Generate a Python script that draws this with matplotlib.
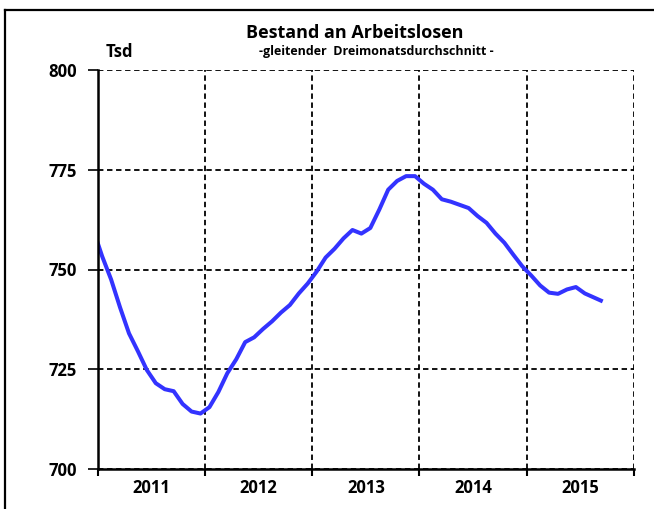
import matplotlib
matplotlib.use("Agg")
import matplotlib.pyplot as plt
from matplotlib.lines import Line2D
import numpy as np

plt.rcParams['font.family'] = ['Open Sans', 'DejaVu Sans']
plt.rcParams['font.weight'] = 'bold'

# monthly values (3-month moving average), Dec 2010 .. Sep 2015, in thousands
werte = [760.0,
         753.3, 747.5, 740.5, 734.0, 729.5, 724.8, 721.5, 720.0, 719.5, 716.3, 714.4, 713.9,
         715.5, 719.3, 724.0, 727.5, 731.8, 733.0, 735.1, 737.0, 739.2, 741.1, 744.0, 746.5,
         749.5, 753.0, 755.2, 757.8, 759.9, 759.0, 760.4, 765.0, 770.0, 772.2, 773.4, 773.4,
         771.5, 770.0, 767.6, 767.0, 766.2, 765.4, 763.4, 761.7, 759.0, 756.7, 753.7, 750.8,
         748.5, 746.0, 744.2, 743.9, 745.0, 745.6, 744.0, 743.0, 742.0]
jahre = ['2011', '2012', '2013', '2014', '2015']
yticks = [700, 725, 750, 775, 800]

# month k sits in the middle of its month; first value is Dec 2010
x = np.arange(len(werte)) - 1 + 0.5

fig = plt.figure(figsize=(6.54, 5.09), dpi=100)
ax = fig.add_axes([97.7 / 654, 1 - 469 / 509, (634 - 97.7) / 654, (469 - 70) / 509])

ax.plot(x, werte, color='#3333ff', lw=2.9, solid_capstyle='butt', zorder=3)

ax.set_xlim(0, 12 * len(jahre))
ax.set_ylim(yticks[0], yticks[-1])

ax.set_yticks(yticks)
ax.set_yticklabels([str(v) for v in yticks])
ax.set_xticks(np.arange(0, 12 * len(jahre) + 1, 12))
ax.set_xticklabels([])
ax.set_xticks(np.arange(6, 12 * len(jahre), 12), minor=True)
ax.set_xticklabels(jahre, minor=True)
ax.tick_params(axis='x', which='minor', length=0, pad=7, labelsize=12)
ax.tick_params(axis='x', which='major', length=5, width=1.5, direction='out')
ax.tick_params(axis='y', length=7, width=1.2, direction='out', pad=8, labelsize=12)

ax.grid(True, which='major', color='black', linestyle=(0, (3.0, 2.0)), lw=1.3, zorder=1)
ax.spines['top'].set_visible(False)
ax.spines['right'].set_visible(False)
ax.spines['left'].set_linewidth(1.8)
ax.spines['bottom'].set_linewidth(1.8)
ax.spines['left'].set_zorder(4)
ax.spines['bottom'].set_zorder(4)

fig.text(355 / 654, 1 - 33 / 509, 'Bestand an Arbeitslosen', ha='center', va='center',
         fontsize=13, fontweight='bold')
fig.text(376 / 654, 1 - 52 / 509, '-gleitender  Dreimonatsdurchschnitt -', ha='center',
         va='center', fontsize=9, fontweight='bold')
fig.text(106 / 654, 1 - 52 / 509, 'Tsd', ha='left', va='center', fontsize=12, fontweight='bold')

# frame of the picture (left and top edge visible)
fig.add_artist(Line2D([5 / 654, 5 / 654], [0, 1 - 10 / 509], color='black', lw=1.6))
fig.add_artist(Line2D([5 / 654, 1], [1 - 10 / 509, 1 - 10 / 509], color='black', lw=1.6))

fig.savefig('out.png', dpi=100)
